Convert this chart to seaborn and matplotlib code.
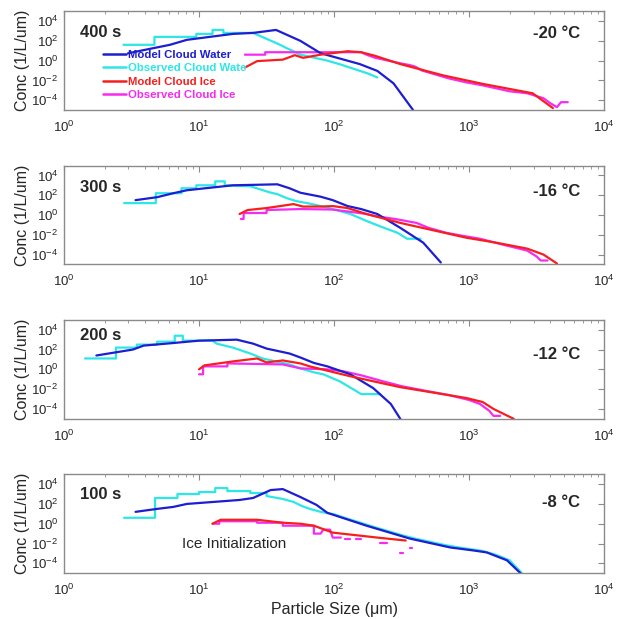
import numpy as np
import pandas as pd
import matplotlib
matplotlib.use("Agg")
import matplotlib.pyplot as plt
import seaborn as sns
from matplotlib.lines import Line2D
from matplotlib.ticker import FixedLocator, LogLocator, NullLocator

# panels (top to bottom)
times = ["400 s", "300 s", "200 s", "100 s"]
temps = ["-20 \u00b0C", "-16 \u00b0C", "-12 \u00b0C", "-8 \u00b0C"]

# values as log10(size um) / log10(conc 1/L/um)
# observed spectra list the step corners of the coarse bins explicitly
# --- 400 s ---
mw400_d = [0.474, 0.785, 0.91, 1.25, 1.4, 1.57, 1.75, 1.9, 2.19, 2.32, 2.44, 2.585]
mw400_n = [0.74, 1.6, 2.1, 2.7, 2.8, 3.1, 2.0, 0.75, -0.35, -1.04, -2.3, -5.0]
ow400_d = [0.44, 0.67, 0.67, 0.98, 0.98, 1.1, 1.1, 1.18, 1.18, 1.4, 1.45, 1.5, 1.55, 1.6, 1.65, 1.7,
           1.75, 1.85, 1.95, 2.05, 2.15, 2.25, 2.32]
ow400_n = [1.6, 1.6, 2.4, 2.4, 2.7, 2.7, 3.1, 3.1, 2.8, 2.8, 2.5, 2.2, 1.9, 1.6, 1.25, 0.95,
           0.6, 0.3, 0.0, -0.4, -0.85, -1.3, -1.7]
mi400_d = [1.34, 1.43, 1.62, 1.71, 1.77, 1.9, 2.1, 2.2, 2.3, 2.49, 2.81, 3.1, 3.47, 3.62]
mi400_n = [-0.7, -0.05, 0.1, 0.55, 0.28, 0.6, 0.95, 0.85, 0.5, -0.35, -1.5, -2.35, -3.3, -4.8]
oi400_d = [1.34, 1.49, 1.49, 2.2, 2.24, 2.3, 2.4, 2.5, 2.56, 2.6, 2.65, 2.75, 2.85, 2.98, 3.1, 3.2,
           3.3, 3.43, 3.55, 3.6, 3.65, 3.68, 3.73]
oi400_n = [0.6, 0.6, 0.85, 0.85, 0.6, 0.3, 0.0, -0.3, -0.45, -0.6, -1.0, -1.4, -1.8, -2.2, -2.5, -2.8,
           -3.1, -3.3, -3.8, -4.3, -4.7, -4.2, -4.2]

# --- 300 s ---
mw300_d = [0.53, 0.69, 0.81, 0.91, 1.25, 1.58, 1.67, 1.75, 1.9, 1.99, 2.1, 2.2, 2.32, 2.49, 2.66, 2.79]
mw300_n = [1.5, 1.8, 2.2, 2.5, 3.0, 3.1, 2.7, 2.25, 1.85, 1.5, 0.9, 0.6, 0.1, -1.3, -2.8, -4.8]
ow300_d = [0.445, 0.68, 0.68, 0.87, 0.87, 0.98, 0.98, 1.12, 1.12, 1.19, 1.19, 1.38, 1.45, 1.52, 1.58,
           1.65, 1.72, 1.8, 1.87, 1.99, 2.12, 2.24, 2.35, 2.47, 2.54, 2.64]
ow300_n = [1.2, 1.2, 2.2, 2.2, 2.7, 2.7, 3.0, 3.0, 3.4, 3.4, 3.0, 2.9, 2.6, 2.3, 2.1,
           1.7, 1.4, 1.2, 1.0, 0.6, 0.1, -0.6, -1.2, -1.8, -2.4, -2.4]
mi300_d = [1.30, 1.36, 1.5, 1.70, 1.77, 1.9, 1.99, 2.1, 2.24, 2.49, 2.98, 3.2, 3.43, 3.55, 3.65]
mi300_n = [0.1, 0.5, 0.7, 1.1, 0.85, 0.85, 0.9, 0.7, 0.1, -0.8, -2.3, -2.8, -3.4, -4.0, -4.9]
oi300_d = [1.31, 1.33, 1.33, 1.5, 1.5, 1.75, 1.99, 2.24, 2.3, 2.45, 2.61, 2.7, 2.83, 2.95, 3.08,
           3.25, 3.43, 3.5, 3.53, 3.58]
oi300_n = [-0.4, -0.4, 0.2, 0.2, 0.5, 0.6, 0.55, 0.1, -0.1, -0.4, -0.8, -1.3, -1.8, -2.1, -2.4,
           -3.0, -3.6, -4.2, -4.6, -4.6]

# --- 200 s ---
mw200_d = [0.24, 0.51, 0.59, 0.76, 1.0, 1.28, 1.4, 1.5, 1.67, 1.75, 1.85, 1.95, 2.12, 2.29, 2.42, 2.49]
mw200_n = [1.4, 2.0, 2.4, 2.6, 2.9, 3.0, 2.6, 2.1, 1.6, 1.2, 0.65, 0.3, -0.5, -1.9, -3.5, -5.0]
ow200_d = [0.156, 0.385, 0.385, 0.54, 0.54, 0.69, 0.69, 0.82, 0.82, 0.88, 0.88, 1.1, 1.13, 1.25,
           1.38, 1.47, 1.57, 1.67, 1.75, 1.85, 1.92, 2.04, 2.14, 2.2, 2.34]
ow200_n = [1.1, 1.1, 2.2, 2.2, 2.5, 2.5, 2.8, 2.8, 3.4, 3.4, 2.9, 2.9, 2.6, 2.2,
           1.6, 1.1, 0.8, 0.5, 0.1, -0.3, -0.5, -1.2, -2.0, -2.5, -2.5]
mi200_d = [1.0, 1.04, 1.25, 1.43, 1.5, 1.62, 1.75, 1.82, 2.12, 2.49, 2.98, 3.1, 3.18, 3.33]
mi200_n = [0.0, 0.4, 0.8, 1.1, 0.7, 0.9, 0.6, 0.3, -0.7, -1.8, -2.9, -3.3, -4.0, -5.0]
oi200_d = [1.0, 1.03, 1.03, 1.21, 1.21, 1.62, 1.75, 1.95, 2.07, 2.2, 2.36, 2.5, 2.69, 2.85, 3.0,
           3.08, 3.15, 3.18, 3.23]
oi200_n = [-0.5, -0.5, 0.3, 0.3, 0.6, 0.5, 0.1, 0.0, -0.2, -0.6, -1.2, -1.7, -2.2, -2.6, -3.1,
           -3.5, -4.2, -4.7, -4.7]

# --- 100 s ---
mw100_d = [0.53, 0.69, 0.81, 0.91, 1.30, 1.4, 1.53, 1.62, 1.75, 1.87, 1.95, 2.24, 2.56, 2.86, 3.03,
           3.13, 3.28, 3.38]
mw100_n = [1.2, 1.5, 1.7, 2.0, 2.4, 2.6, 3.4, 3.5, 2.7, 1.9, 1.1, -0.2, -1.5, -2.4, -2.7,
           -2.9, -3.7, -5.0]
ow100_d = [0.445, 0.674, 0.674, 0.84, 0.84, 1.0, 1.0, 1.12, 1.12, 1.21, 1.21, 1.38, 1.38, 1.5, 1.5,
           1.62, 1.7, 1.76, 1.82, 1.9, 2.0, 2.1, 2.2, 2.3, 2.4, 2.5, 2.6, 2.7, 2.8, 2.9, 3.0, 3.1,
           3.2, 3.3, 3.39]
ow100_n = [0.6, 0.6, 2.6, 2.6, 3.0, 3.0, 3.2, 3.2, 3.6, 3.6, 3.3, 3.3, 3.1, 3.1, 2.8,
           2.5, 2.2, 1.8, 1.5, 1.2, 0.95, 0.5, 0.08, -0.35, -0.75, -1.15, -1.5, -1.8, -2.1, -2.35,
           -2.55, -2.75, -3.15, -3.7, -5.0]
mi100_d = [1.1, 1.16, 1.43, 1.62, 1.75, 1.85, 1.99, 2.32, 2.53]
mi100_n = [0.0, 0.4, 0.4, 0.1, 0.0, -0.2, -0.9, -1.4, -1.7]
oi100_d = [1.1, 1.15, 1.15, 1.43, 1.43, 1.62, 1.62, 1.85, 1.85, 1.9, 1.92, 1.97, 1.99, 2.05,
           2.08, 2.12, 2.16, 2.2, 2.34, 2.39, 2.49, 2.51, 2.56, 2.58]
oi100_n = [0.0, 0.0, 0.25, 0.25, 0.1, 0.1, -0.2, -0.2, -1.0, -1.0, -0.6, -0.6, -1.4, -1.4,
           -1.5, -1.5, -1.5, -1.5, -1.9, -1.9, -3.0, -3.0, -2.5, -2.5]
oi100_seg = [0, 0, 0, 0, 0, 0, 0, 0, 0, 0, 0, 0, 0, 0,
             1, 1, 2, 2, 3, 3, 4, 4, 5, 5]

labels = ["Model Cloud Water", "Observed Cloud Wate", "Model Cloud Ice", "Observed Cloud Ice"]
colors = {"Model Cloud Water": "#1d1dd2", "Observed Cloud Wate": "#2de6e6",
          "Model Cloud Ice": "#f5201e", "Observed Cloud Ice": "#f52cf0"}

series = {
    "400 s": [mw400_d, mw400_n, ow400_d, ow400_n, mi400_d, mi400_n, oi400_d, oi400_n, None],
    "300 s": [mw300_d, mw300_n, ow300_d, ow300_n, mi300_d, mi300_n, oi300_d, oi300_n, None],
    "200 s": [mw200_d, mw200_n, ow200_d, ow200_n, mi200_d, mi200_n, oi200_d, oi200_n, None],
    "100 s": [mw100_d, mw100_n, ow100_d, ow100_n, mi100_d, mi100_n, oi100_d, oi100_n, oi100_seg],
}

rows = []
for t, s in series.items():
    for k, lab in enumerate(labels):
        d, n = s[2 * k], s[2 * k + 1]
        seg = s[8] if (k == 3 and s[8] is not None) else [0] * len(d)
        kind = "obs" if "Observed" in lab else "model"
        for di, ni, gi in zip(d, n, seg):
            rows.append((t, lab, kind, gi, 10 ** di, 10 ** ni))
df = pd.DataFrame(rows, columns=["time", "series", "kind", "seg", "size", "conc"])

sns.set_style("white")
plt.rcParams['font.family'] = ['Liberation Sans', 'DejaVu Sans']
plt.rcParams['mathtext.fontset'] = 'custom'
plt.rcParams['mathtext.rm'] = 'Liberation Sans'
plt.rcParams['axes.unicode_minus'] = False

fig, axes = plt.subplots(4, 1, figsize=(6.21, 6.19), dpi=100)
fig.subplots_adjust(left=0.103, right=0.973, top=0.982, bottom=0.074, hspace=0.56)

frame = "#8a8a8a"
temp_y = [0.775, 0.74, 0.65, 0.71]
time_y = [0.785, 0.78, 0.84, 0.80]

for i, (ax, t) in enumerate(zip(axes, times)):
    sub = df[df.time == t]
    sns.lineplot(data=sub[sub.kind == "obs"], x="size", y="conc", hue="series", units="seg",
                 estimator=None, sort=False, palette=colors, lw=1.6, legend=False, ax=ax)
    sns.lineplot(data=sub[sub.kind == "model"], x="size", y="conc", hue="series", units="seg",
                 estimator=None, sort=False, palette=colors, lw=1.6, legend=False, ax=ax)
    ax.set_xscale("log")
    ax.set_yscale("log")
    ax.set_xlim(1, 1e4)
    ax.set_ylim(1e-5, 1e5)
    ax.yaxis.set_major_locator(FixedLocator([1e-4, 1e-2, 1, 1e2, 1e4]))
    ax.yaxis.set_minor_locator(NullLocator())
    ax.xaxis.set_major_locator(FixedLocator([1, 10, 100, 1000, 10000]))
    ax.xaxis.set_minor_locator(LogLocator(base=10, subs=np.arange(2, 10)))
    ax.tick_params(which="both", direction="in", top=True, right=True, color=frame, labelsize=9.5)
    ax.tick_params(which="major", length=4, pad=4)
    ax.tick_params(axis="x", which="major", pad=7)
    ax.tick_params(which="minor", length=2)
    for sp in ax.spines.values():
        sp.set_color(frame)
        sp.set_linewidth(1.0)
    ax.set_ylabel("Conc (1/L/um)", fontsize=11.5, labelpad=1)
    ax.set_xlabel("")
    ax.text(0.03, time_y[i], t, transform=ax.transAxes, fontsize=12, fontweight="bold", va="center")
    ax.text(0.956, temp_y[i], temps[i], transform=ax.transAxes, fontsize=12, fontweight="bold",
            va="center", ha="right")

axes[-1].set_xlabel("Particle Size (\u03bcm)", fontsize=11.5, labelpad=3)
axes[-1].text(0.219, 0.3, "Ice Initialization", transform=axes[-1].transAxes, fontsize=11, va="center")

handles = [Line2D([], [], color=colors[l], lw=1.8) for l in labels]
axes[0].legend(handles, labels, loc="upper left", bbox_to_anchor=(0.072, 0.61), frameon=False,
               borderaxespad=0, borderpad=0, handlelength=2.0, handletextpad=0.2, labelspacing=0.3,
               prop={"size": 8.2, "weight": "bold"}, labelcolor="linecolor")

plt.savefig("out.png", dpi=100)
